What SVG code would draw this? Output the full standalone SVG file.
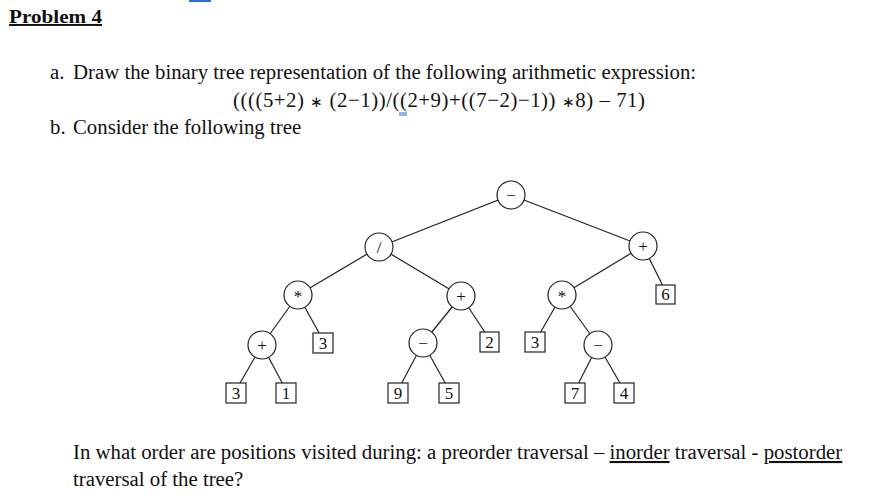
<svg xmlns="http://www.w3.org/2000/svg" width="875" height="500" viewBox="0 0 875 500">
<style>
text{font-family:"Liberation Serif",serif;fill:#111}
.t{font-size:20.8px}
.n circle{fill:#fff;stroke:#222;stroke-width:1.2}
.n rect{fill:#fff;stroke:#222;stroke-width:1.2}
.n text{font-size:17px;text-anchor:middle}
.e line{stroke:#222;stroke-width:1.2}
</style>
<rect width="875" height="500" fill="#fff"/>
<line x1="189" y1="1" x2="211" y2="1" stroke="#2a6fd6" stroke-width="2"/>
<text x="9" y="23" font-weight="bold" font-size="19.5" text-decoration="underline" textLength="93" lengthAdjust="spacingAndGlyphs">Problem 4</text>
<text x="50" y="79" class="t">a.</text>
<text x="73" y="79" class="t">Draw the binary tree representation of the following arithmetic expression:</text>
<text x="233" y="107" class="t" textLength="412">((((5+2) <tspan font-size="15">∗</tspan> (2−1))/((2+9)+((7−2)−1)) <tspan font-size="15">∗</tspan>8) – 71)</text>
<line x1="399" y1="113" x2="407" y2="113" stroke="#2a6fd6" stroke-width="1"/>
<line x1="399" y1="115" x2="407" y2="115" stroke="#2a6fd6" stroke-width="1"/>
<text x="50" y="134" class="t">b.</text>
<text x="73" y="134" class="t">Consider the following tree</text>
<g class="e">
<line x1="511" y1="195" x2="379" y2="247"/><line x1="511" y1="195" x2="643" y2="246"/>
<line x1="379" y1="247" x2="298" y2="295"/><line x1="379" y1="247" x2="461" y2="296"/>
<line x1="643" y1="246" x2="562" y2="295"/><line x1="643" y1="246" x2="665" y2="290"/>
<line x1="298" y1="295" x2="262" y2="345"/><line x1="298" y1="295" x2="323" y2="340"/>
<line x1="461" y1="296" x2="423" y2="343"/><line x1="461" y1="296" x2="490" y2="340"/>
<line x1="562" y1="295" x2="536" y2="340"/><line x1="562" y1="295" x2="598" y2="345"/>
<line x1="262" y1="345" x2="236" y2="390"/><line x1="262" y1="345" x2="286" y2="390"/>
<line x1="423" y1="343" x2="398" y2="390"/><line x1="423" y1="343" x2="449" y2="390"/>
<line x1="598" y1="345" x2="575" y2="390"/><line x1="598" y1="345" x2="624" y2="390"/>
</g>
<g id="root" class="n"><circle cx="511" cy="195" r="14"/><text x="511" y="201">−</text></g>
<g id="div" class="n"><circle cx="379" cy="247" r="14"/><text x="379" y="253">/</text></g>
<g id="plusR" class="n"><circle cx="643" cy="246" r="14"/><text x="643" y="252">+</text></g>
<g id="mulL" class="n"><circle cx="298" cy="295" r="14"/><text x="298" y="302">*</text></g>
<g id="plusM" class="n"><circle cx="461" cy="296" r="14"/><text x="461" y="302">+</text></g>
<g id="mulR" class="n"><circle cx="562" cy="295" r="14"/><text x="562" y="302">*</text></g>
<g id="six" class="n"><rect x="656" y="285" width="19" height="19"/><text x="665.5" y="300">6</text></g>
<g id="plusL" class="n"><circle cx="262" cy="345" r="14"/><text x="262" y="351">+</text></g>
<g id="three1" class="n"><rect x="313" y="333" width="20" height="20"/><text x="323" y="349">3</text></g>
<g id="minM" class="n"><circle cx="423" cy="343" r="14"/><text x="423" y="349">−</text></g>
<g id="two" class="n"><rect x="480" y="332" width="19" height="20"/><text x="489.5" y="348">2</text></g>
<g id="three2" class="n"><rect x="525" y="332" width="20" height="20"/><text x="535" y="348">3</text></g>
<g id="minR" class="n"><circle cx="598" cy="345" r="14"/><text x="598" y="351">−</text></g>
<g id="three3" class="n"><rect x="226" y="383" width="20" height="20"/><text x="236" y="399">3</text></g>
<g id="one" class="n"><rect x="276" y="383" width="20" height="20"/><text x="286" y="399">1</text></g>
<g id="nine" class="n"><rect x="388" y="383" width="20" height="20"/><text x="398" y="399">9</text></g>
<g id="five" class="n"><rect x="439" y="383" width="20" height="20"/><text x="449" y="399">5</text></g>
<g id="seven" class="n"><rect x="565" y="383" width="20" height="20"/><text x="575" y="399">7</text></g>
<g id="four" class="n"><rect x="614" y="383" width="20" height="20"/><text x="624" y="399">4</text></g>
<text x="73" y="459" class="t">In what order are positions visited during: a preorder traversal – <tspan text-decoration="underline">inorder</tspan> traversal - <tspan text-decoration="underline">postorder</tspan></text>
<text x="73" y="486" class="t">traversal of the tree?</text>
</svg>
